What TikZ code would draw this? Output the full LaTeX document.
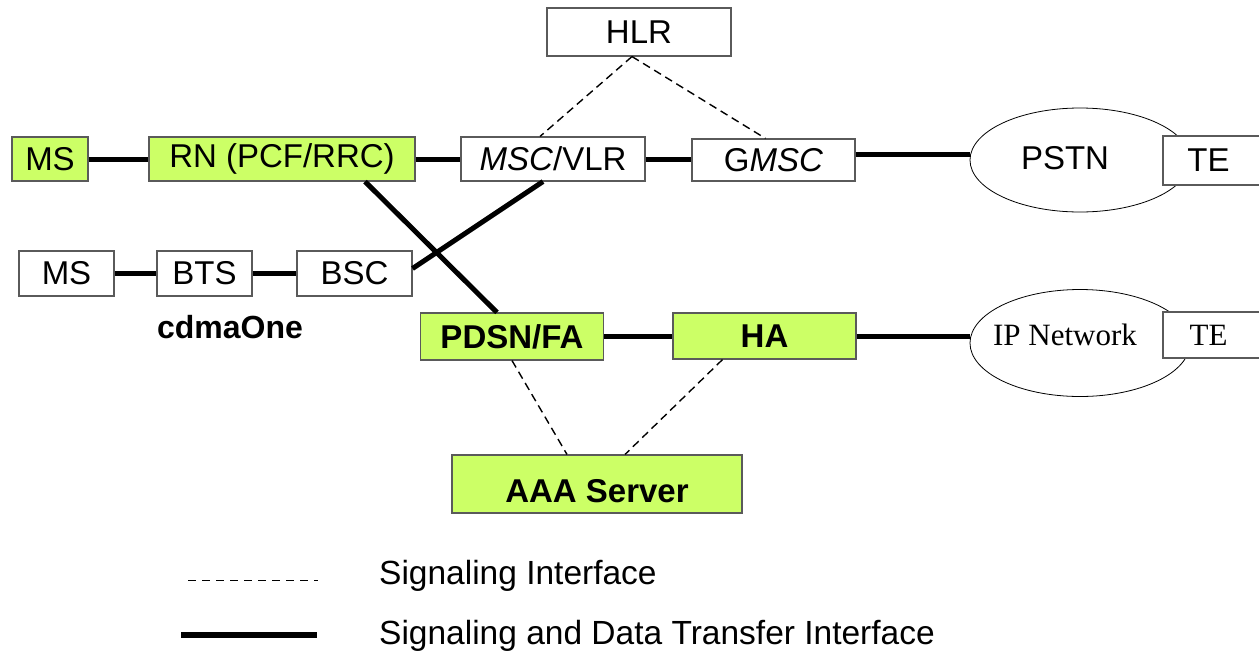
\documentclass[tikz,border=0pt]{standalone}
\usepackage{fontspec}
\setmainfont{Liberation Sans}
\newfontfamily\seriffont{Liberation Serif}
\usetikzlibrary{shapes.geometric}

\definecolor{nodegreen}{RGB}{204,255,102}
\definecolor{boxline}{RGB}{90,90,90}

\tikzset{
  box/.style={draw=boxline, line width=1.1pt, fill=white, inner sep=0pt,
    font=\fontsize{33}{33}\selectfont},
  greenbox/.style={box, fill=nodegreen},
  boldbox/.style={greenbox, font=\fontsize{33}{33}\selectfont\bfseries},
  cloud/.style={ellipse, draw=black, line width=0.8pt, fill=white, inner sep=0pt,
    font=\fontsize{33}{33}\selectfont},
  datalink/.style={line width=5pt},
  siglink/.style={line width=1.4pt, dash pattern=on 8pt off 5pt},
  legendtext/.style={anchor=west, inner sep=0pt, font=\fontsize{33.5}{33.5}\selectfont}
}

\begin{document}
\begin{tikzpicture}[x=1pt, y=-1pt]
\useasboundingbox (0,0) rectangle (1259,654);

% core network and radio network
\node[box, minimum width=184pt, minimum height=48pt] (hlr) at (639,32) {HLR};
\node[greenbox, minimum width=76pt, minimum height=44pt] (ms1) at (50,159) {MS};
\node[greenbox, minimum width=266pt, minimum height=44pt] (rn) at (282,159) {RN (PCF/RRC)};
\node[box, minimum width=184pt, minimum height=44pt] (msc) at (553,159) {\textit{MSC}/VLR};
\node[box, minimum width=163pt, minimum height=42pt] (gmsc) at (773.5,160) {G\textit{MSC}};
\node[cloud, minimum width=220pt, minimum height=104pt,
      label={[xshift=-15pt, yshift=2pt, font=\fontsize{33}{33}\selectfont]center:PSTN}] (pstn) at (1080,160) {};
\node[box, minimum width=97pt, minimum height=49pt] (te1) at (1211.5,160.5) {\hspace*{-6pt}TE};

% cdmaOne access network
\node[box, minimum width=95pt, minimum height=45pt] (ms2) at (66.5,273.5) {MS};
\node[box, minimum width=95pt, minimum height=45pt] (bts) at (204.5,273.5) {BTS};
\node[box, minimum width=115pt, minimum height=45pt] (bsc) at (354.5,273.5) {BSC};
\node[font=\fontsize{32}{32}\selectfont\bfseries, inner sep=0pt] (cdma) at (230,327) {cdmaOne};

% packet data network
\node[boldbox, minimum width=183pt, minimum height=47pt] (pdsn) at (512,336.5) {PDSN/FA};
\node[boldbox, minimum width=183pt, minimum height=46pt] (ha) at (764.5,336) {HA};
\node[cloud, minimum width=220pt, minimum height=107pt,
      label={[xshift=-15pt, yshift=8pt, font=\seriffont\fontsize{31}{31}\selectfont]center:IP Network}] (ip) at (1080,343) {};
\node[box, minimum width=97pt, minimum height=46pt, font=\seriffont\fontsize{31}{31}\selectfont] (te2) at (1211.5,335) {\hspace*{-6pt}TE};
\node[boldbox, minimum width=290pt, minimum height=58pt, text height=36pt, text depth=0pt] (aaa) at (597,484) {AAA Server};

% signaling and data transfer interfaces
\draw[datalink] (ms1.east) -- (rn.west);
\draw[datalink] (rn.east) -- (msc.west);
\draw[datalink] (msc.east) -- (msc.east -| gmsc.west);
\draw[datalink] ([yshift=6pt]gmsc.east) -- ([yshift=6pt]gmsc.east -| pstn.west);
\draw[datalink] (ms2.east) -- (bts.west);
\draw[datalink] (bts.east) -- (bsc.west);
\draw[datalink] ([xshift=83pt]rn.south) -- ([xshift=-15pt]pdsn.north);
\draw[datalink] ([yshift=5pt]bsc.east) -- ([xshift=-10pt]msc.south);
\draw[datalink] (pdsn.east) -- (pdsn.east -| ha.west);
\draw[datalink] (ha.east) -- (ha.east -| ip.west);

% signaling interfaces
\draw[siglink] ([xshift=-7pt]hlr.south) -- ([xshift=-13pt]msc.north);
\draw[siglink] ([xshift=-7pt]hlr.south) -- ([xshift=-8pt]gmsc.north);
\draw[siglink] (pdsn.south) -- ([xshift=-30pt]aaa.north);
\draw[siglink] ([xshift=-42pt]ha.south) -- ([xshift=28pt]aaa.north);

% legend
\coordinate (sigA) at (188,580);
\coordinate (sigB) at (318,580);
\coordinate (datA) at (181,635);
\coordinate (datB) at (317,635);
\draw[line width=1pt, dash pattern=on 8pt off 6pt] (sigA) -- (sigB);
\draw[line width=6pt] (datA) -- (datB);
\node[legendtext] (sigtext) at (379,576) {Signaling Interface};
\node[legendtext] (dattext) at (379,636) {Signaling and Data Transfer Interface};
\end{tikzpicture}
\end{document}
